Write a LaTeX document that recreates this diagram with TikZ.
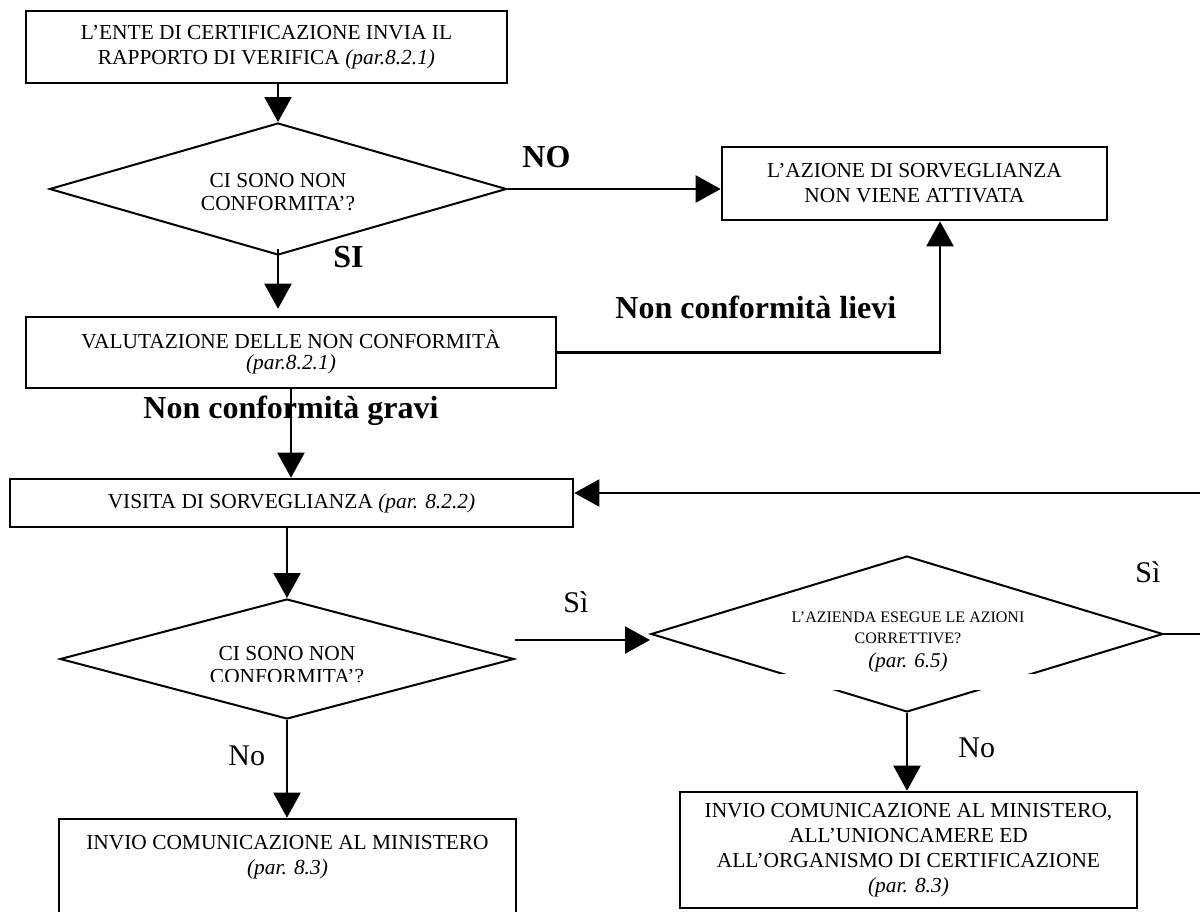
\documentclass[tikz,border=0pt]{standalone}
\usepackage{fontspec}
\setmainfont{Liberation Serif}
\usetikzlibrary{arrows.meta,shapes.geometric}

\begin{document}
\begin{tikzpicture}[x=0.5pt,y=-0.5pt,
  box/.style={draw, line width=1.3pt, inner sep=0pt, align=center,
              font=\fontsize{10.7}{12.5}\selectfont},
  dia/.style={draw, shape=diamond, line width=1pt, inner sep=0pt, aspect=3.3},
  txt/.style={align=center, inner sep=0pt, font=\fontsize{10.7}{11.5}\selectfont},
  flow/.style={line width=1.1pt, -{Triangle[length=12.5pt,width=13.5pt]}},
  lbl/.style={inner sep=0pt, anchor=base west, font=\fontsize{16}{18}\selectfont\bfseries},
  ans/.style={inner sep=0pt, anchor=base west, font=\fontsize{15}{18}\selectfont},
]
\useasboundingbox (0,0) rectangle (1200,911);

% --- process boxes ---
\node[box, minimum width=240.5pt, minimum height=36pt] (start) at (266.5,47)
  {L'ENTE DI CERTIFICAZIONE INVIA IL\\RAPPORTO DI VERIFICA \textit{(par.8.2.1)}};
\node[box, minimum width=192.5pt, minimum height=36.5pt] (noact) at (914.5,183.5)
  {L'AZIONE DI SORVEGLIANZA\\NON VIENE ATTIVATA};
\node[box, minimum width=265pt, minimum height=35.5pt,
      font=\fontsize{10.7}{10.5}\selectfont] (valut) at (291,352.5)
  {VALUTAZIONE DELLE NON CONFORMITÀ\\\textit{(par.8.2.1)}};
\node[box, minimum width=281.5pt, minimum height=24pt] (visita) at (291.5,503)
  {VISITA DI SORVEGLIANZA \textit{(par. 8.2.2)}};
\node[box, minimum width=228.5pt, minimum height=100pt] (box5) at (287.5,919) {};
\node[txt, font=\fontsize{10.7}{12.5}\selectfont] (box5t) at (287.5,857)
  {INVIO COMUNICAZIONE AL MINISTERO\\\textit{(par. 8.3)}};
\node[box, minimum width=228.5pt, minimum height=58pt] (box6) at (908.5,850)
  {INVIO COMUNICAZIONE AL MINISTERO,\\ALL'UNIONCAMERE ED\\ALL'ORGANISMO DI CERTIFICAZIONE\\\textit{(par. 8.3)}};

% --- decisions ---
\node[dia, minimum width=228.5pt, minimum height=66pt] (q1) at (278,189) {};
\node[txt] (q1t) at (278,192) {CI SONO NON\\CONFORMITA'?};

\node[dia, minimum width=256pt, minimum height=78pt] (q2) at (907,634) {};
\fill[white] (770,674) rectangle (1045,690);
\node[txt, font=\fontsize{8}{10.5}\selectfont] (q2t) at (908,642)
  {L'AZIENDA ESEGUE LE AZIONI\\CORRETTIVE?\\[1.5pt]{\fontsize{10.5}{12}\selectfont\textit{(par. 6.5)}}};

\node[dia, minimum width=227pt, minimum height=60pt] (q3) at (287,659) {};
\begin{scope}
  \clip (0,600) rectangle (1200,681);
  \node[txt] (q3t) at (287,665) {CI SONO NON\\CONFORMITA'?};
\end{scope}

% --- connectors ---
\coordinate (rt) at (1205,0);
\draw[flow] (start.south -| q1.north) -- (q1.north);
\draw[flow] (q1.east) -- (q1.east -| noact.west);
\draw[flow] ([yshift=3.5pt]q1.south) -- ([yshift=3.5pt]q1.south |- valut.north);
\draw[flow] (valut.east) -| ([xshift=12.75pt]noact.south);
\draw[flow] (valut.south) -- (valut.south |- visita.north);
\draw[flow] (visita.south -| q3.north) -- (q3.north);
\draw[flow] ([yshift=9.5pt]q3.east) -- ([yshift=9.5pt]q3.east -| q2.west);
\draw[flow] (q3.south) -- (q3.south |- box5.north);
\draw[flow] (q2.south) -- (q2.south |- box6.north);
\draw[flow] (q2.east) -- (q2.east -| rt) |- ([yshift=5pt]visita.east);

% --- branch labels ---
\node[lbl] (lno) at (522,167) {NO};
\node[lbl] (lsi) at (333,267) {SI};
\node[lbl] (llievi) at (615,318) {Non conformità lievi};
\node[lbl] (lgravi) at (143,418) {Non conformità gravi};
\node[ans] (asi1) at (563,612) {Sì};
\node[ans] (ano1) at (228,765) {No};
\node[ans] (asi2) at (1135,582) {Sì};
\node[ans] (ano2) at (958,757) {No};
\end{tikzpicture}
\end{document}
